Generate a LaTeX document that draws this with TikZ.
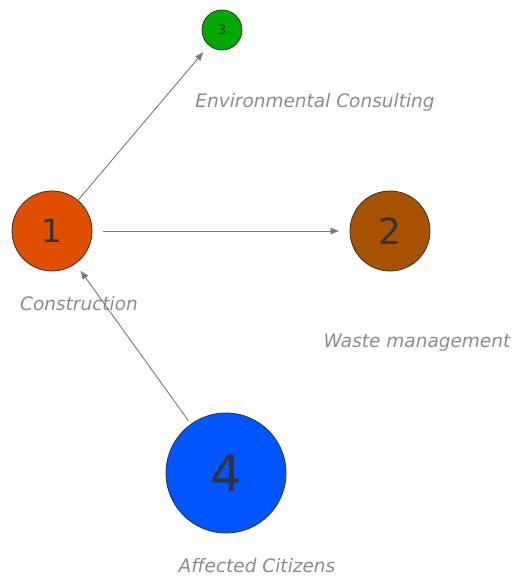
\documentclass[tikz,border=0pt]{standalone}
\usepackage{fontspec}
\setmainfont{DejaVu Sans}
\usepackage{tikz}
\usetikzlibrary{arrows.meta, positioning, calc}
\definecolor{constrorange}{RGB}{224,78,0}
\definecolor{wastebrown}{RGB}{166,82,0}
\definecolor{envgreen}{RGB}{0,168,0}
\definecolor{citizenblue}{RGB}{0,85,255}
\definecolor{numgrey}{RGB}{51,51,51}
\definecolor{labelgrey}{RGB}{140,140,140}
\definecolor{edgegrey}{RGB}{120,120,120}

\begin{document}
\begin{tikzpicture}[x=1pt, y=-1pt,
	actor/.style={circle, draw=numgrey, line width=0.8pt, inner sep=0pt, text=numgrey},
	actorlabel/.style={text=labelgrey, font=\fontsize{18.5}{22}\selectfont\itshape},
	link/.style={draw=edgegrey, line width=0.9pt, -{Latex[length=9pt, width=7pt]}}]
	%% page frame
	\useasboundingbox (0,0) rectangle (517,579);
	
	\node[actor, fill=constrorange, minimum size=80pt, font=\fontsize{32}{36}\selectfont] (construction) at (52,231) {1};
	\node[actor, fill=wastebrown, minimum size=80pt, font=\fontsize{36}{40}\selectfont] (waste) at (390,231) {2};
	\node[actor, fill=envgreen, minimum size=40pt, font=\fontsize{13}{15}\selectfont] (consulting) at (222,30) {3};
	\node[actor, fill=citizenblue, minimum size=120pt, font=\fontsize{50}{54}\selectfont] (citizens) at (226,473) {4};
	
	\node[actorlabel] (constructionlabel) at (79,304) {Construction};
	\node[actorlabel] (wastelabel) at (417,343) {Waste management};
	\node[actorlabel] (consultinglabel) at (315,102) {Environmental Consulting};
	\node[actorlabel] (citizenslabel) at (257,566) {Affected Citizens};
	
	\draw[link, shorten >=8pt] (construction) -- (consulting);
	\draw[link, shorten <=11pt, shorten >=10pt] (construction) -- (waste);
	\draw[link, shorten <=4pt, shorten >=8pt] (citizens) -- (construction);
\end{tikzpicture}
\end{document}
